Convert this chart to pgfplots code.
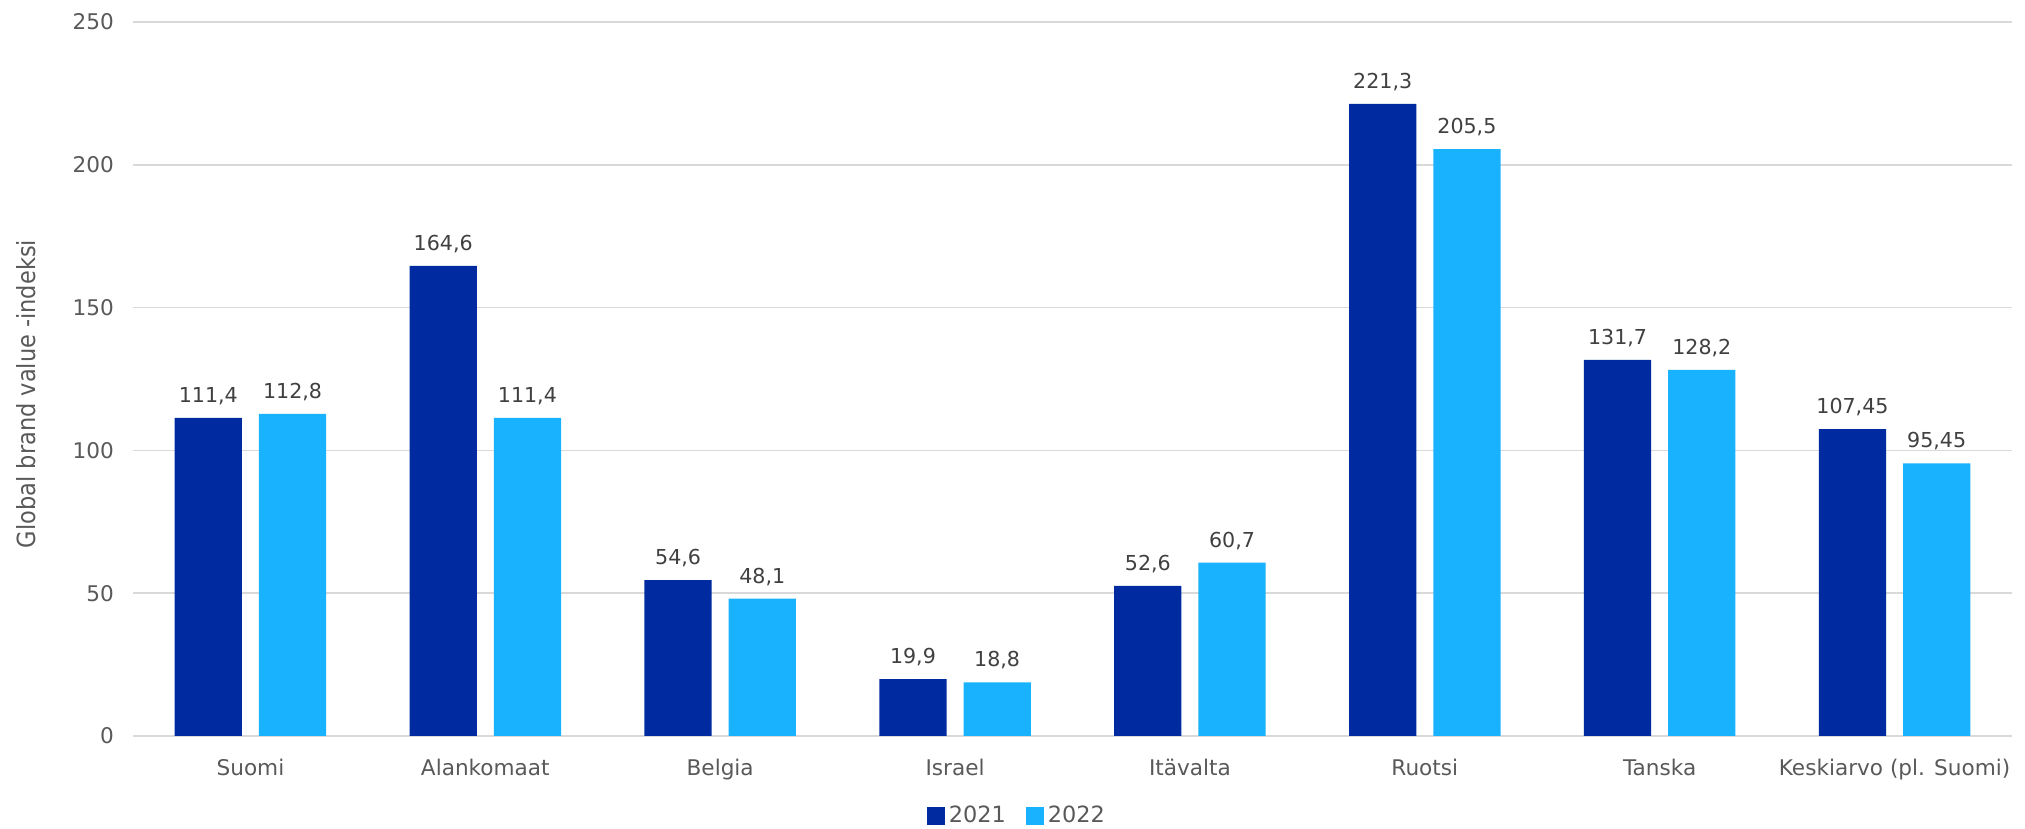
\documentclass[border=0pt]{standalone}
\usepackage{pgfplots}
\pgfplotsset{compat=1.18}
\usepackage{fontspec}
\setmainfont{DejaVu Sans}
\newfontfamily\condfont{DejaVu Sans Condensed}
\definecolor{c21}{RGB}{0,42,160}
\definecolor{c22}{RGB}{25,178,255}
\definecolor{gridc}{RGB}{217,217,217}
\definecolor{tickc}{RGB}{89,89,89}
\definecolor{lblc}{RGB}{64,64,64}
\begin{document}
\begin{tikzpicture}
\begin{axis}[
  scale only axis, width=939.5pt, height=357pt,
  at={(0,0)}, anchor=south west,
  xmin=-0.5, xmax=7.5, ymin=0, ymax=250,
  ytick={0,50,...,250},
  xtick=data,
  xticklabels={Suomi,Alankomaat,Belgia,Israel,Itävalta,Ruotsi,Tanska,Keskiarvo (pl. Suomi)},
  axis lines*=left,
  y axis line style={draw=none},
  x axis line style={draw=gridc, line width=1pt},
  major tick length=0pt,
  ymajorgrids, grid style={draw=gridc, line width=0.8pt},
  /pgf/number format/assume math mode=true,
  tick label style={font=\fontsize{10.8}{12}\selectfont, text=tickc},
  yticklabel style={xshift=-6pt},
  xticklabel style={yshift=-8pt},
  ylabel={Global brand value -indeksi},
  every axis y label/.style={at={(axis description cs:-0.057,0.479)}, rotate=90, anchor=center, font=\condfont\fontsize{12.5}{14}\selectfont, text=tickc},
  ybar=8.5pt, bar width=33.6pt,
  nodes near coords={\pgfmathprintnumber[use comma]{\pgfplotspointmeta}},
  every node near coord/.append style={font=\fontsize{10.3}{12}\selectfont, text=lblc, yshift=3pt},
  legend columns=2,
  legend style={at={(axis description cs:0.471,-0.112)}, anchor=center, draw=none, fill=none,
    font=\fontsize{11.2}{13}\selectfont, text=tickc,
    /tikz/every even column/.append style={column sep=8pt}},
  legend image code/.code={\fill[#1] (0pt,-4.5pt) rectangle (9pt,4.5pt);},
]
\addplot[fill=c21, draw=none] coordinates {(0,111.4) (1,164.6) (2,54.6) (3,19.9) (4,52.6) (5,221.3) (6,131.7) (7,107.45)};
\addplot[fill=c22, draw=none] coordinates {(0,112.8) (1,111.4) (2,48.1) (3,18.8) (4,60.7) (5,205.5) (6,128.2) (7,95.45)};
\legend{2021,2022}
\end{axis}
\pgfresetboundingbox
\useasboundingbox (-66.5pt,-46.5pt) rectangle (946pt,368pt);
\end{tikzpicture}
\end{document}
